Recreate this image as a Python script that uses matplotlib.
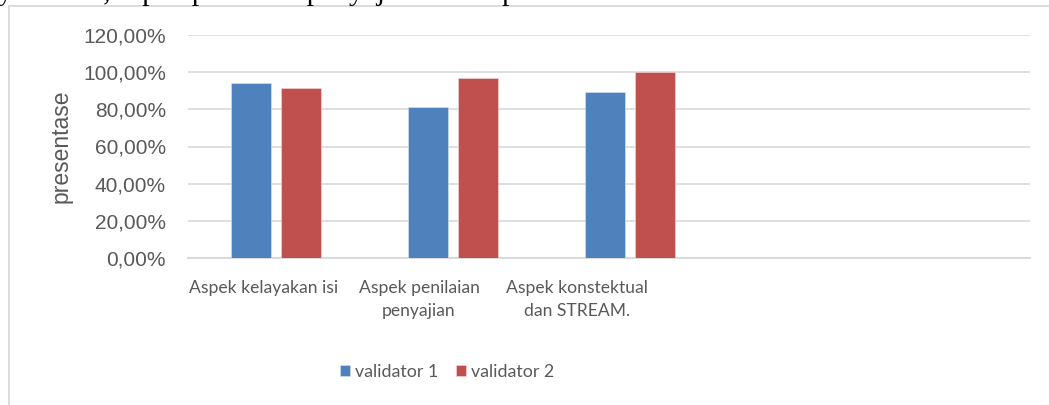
import numpy as np
import matplotlib.pyplot as plt
import matplotlib.transforms as mtransforms
from matplotlib.lines import Line2D

# data
kategori = ['Aspek kelayakan isi', 'Aspek penilaian\npenyajian', 'Aspek konstektual\ndan STREAM.']
validator1 = [94.3, 81.1, 89.5]
validator2 = [91.5, 96.7, 100.0]
seri = ['validator 1', 'validator 2']
yticks = [0, 20, 40, 60, 80, 100, 120]
ytick_labels = ['0,00%', '20,00%', '40,00%', '60,00%', '80,00%', '100,00%', '120,00%']

warna_biru = '#4F81BD'
warna_merah = '#C0504D'
abu_teks = '#595959'
abu_garis = '#D9D9D9'
font_sempit = 'Lato'

fig = plt.figure(figsize=(10.49, 4.05), dpi=100)
ax = fig.add_axes([188/1049, 1-258/405, 842/1049, 223/405])

x = np.arange(len(kategori))
lebar = 0.226
ax.bar(x - 0.143, validator1, lebar, color=warna_biru, edgecolor='#DCE6F2', linewidth=0.4, label=seri[0], zorder=3)
ax.bar(x + 0.143, validator2, lebar, color=warna_merah, edgecolor='#F2DCDB', linewidth=0.4, label=seri[1], zorder=3)

ax.set_xlim(-0.497, 4.26)
ax.set_ylim(0, 120)
ax.set_yticks(yticks)
ax.set_yticklabels(ytick_labels, family='Liberation Sans', fontsize=15, color=abu_teks)
ax.grid(axis='y', color=abu_garis, linewidth=1.2, zorder=0)
ax.set_axisbelow(True)
for s in ['top', 'right', 'left']:
    ax.spines[s].set_visible(False)
ax.spines['bottom'].set_color(abu_garis)
ax.spines['bottom'].set_linewidth(1.4)
ax.tick_params(axis='y', length=0, pad=16)
ax.tick_params(axis='x', length=0, pad=16)

ax.set_xticks(x)
ax.set_xticklabels(kategori, family=font_sempit, fontsize=12.6, color=abu_teks, linespacing=1.55)
# geser label sumbu x sedikit ke kiri seperti di gambar asli
geser_px = [-12, -34, -53]
for lbl, g in zip(ax.get_xticklabels(), geser_px):
    lbl.set_transform(lbl.get_transform() + mtransforms.ScaledTranslation(g/100, 0, fig.dpi_scale_trans))

ax.set_ylabel('presentase', family='Liberation Sans', fontsize=16.5, color=abu_teks)
ax.yaxis.set_label_coords(-0.137, 0.5)

leg = fig.legend(loc='center', bbox_to_anchor=(447/1049, 1-372/405), ncol=2, frameon=False,
                 prop={'family': font_sempit, 'size': 12.8},
                 handlelength=0.56, handleheight=0.56, handletextpad=0.3, columnspacing=1.0)
for t in leg.get_texts():
    t.set_color(abu_teks)

# bingkai grafik dan potongan teks dokumen di atas
fig.add_artist(Line2D([8.5/1049, 8.5/1049], [0, 1-6/405], color=abu_garis, lw=1.3))
fig.add_artist(Line2D([8.5/1049, 1], [1-6/405, 1-6/405], color=abu_garis, lw=1.3))
fig.text(-2/1049, 1.0, 'yakan isi, aspek penilaian penyajian dan aspek konstektual dan STREAM.',
         family='Liberation Serif', fontsize=21.2, color='black', va='baseline', ha='left')

fig.savefig('out.png', dpi=100)
